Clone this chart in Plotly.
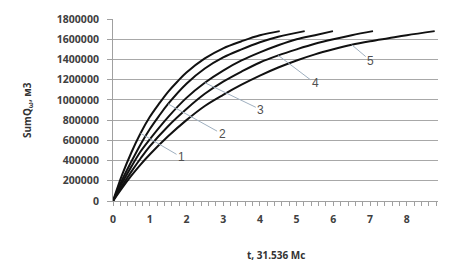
import numpy as np
import plotly.graph_objects as go

# time, units of 31.536 Mc
t1 = [0, 0.25, 0.5, 0.75, 1.0, 1.25, 1.5, 1.75, 2.0, 2.5, 3.0, 3.5, 4.0, 4.54]
q1 = [0, 260000, 480000, 670000, 830000, 960000, 1080000, 1180000, 1270000, 1410000, 1510000, 1580000, 1640000, 1680000]

t2 = [0, 0.25, 0.5, 0.75, 1.0, 1.25, 1.5, 2.0, 2.5, 3.0, 3.5, 4.0, 4.5, 5.22]
q2 = [0, 210000, 390000, 560000, 710000, 840000, 960000, 1160000, 1310000, 1420000, 1500000, 1570000, 1625000, 1680000]

t3 = [0, 0.25, 0.5, 0.75, 1.0, 1.5, 2.0, 2.5, 3.0, 3.5, 4.0, 4.5, 5.0, 5.5, 5.99]
q3 = [0, 180000, 340000, 490000, 610000, 830000, 1020000, 1170000, 1290000, 1390000, 1470000, 1540000, 1600000, 1640000, 1680000]

t4 = [0, 0.25, 0.5, 0.75, 1.0, 1.5, 2.0, 2.5, 3.0, 3.5, 4.0, 4.5, 5.0, 5.5, 6.0, 6.5, 7.08]
q4 = [0, 150000, 290000, 420000, 540000, 740000, 910000, 1060000, 1180000, 1280000, 1370000, 1440000, 1500000, 1555000, 1600000, 1640000, 1680000]

t5 = [0, 0.25, 0.5, 0.75, 1.0, 1.5, 2.0, 2.5, 3.0, 3.5, 4.0, 4.5, 5.0, 5.5, 6.0, 6.5, 7.0, 7.5, 8.0, 8.76]
q5 = [0, 130000, 250000, 360000, 460000, 640000, 800000, 940000, 1050000, 1150000, 1240000, 1320000, 1390000, 1450000, 1500000, 1545000, 1580000, 1610000, 1640000, 1680000]

series = [(t1, q1), (t2, q2), (t3, q3), (t4, q4), (t5, q5)]
curve_labels = ["1", "2", "3", "4", "5"]
label_at_t = [0.75, 1.5, 2.5, 4.5, 6.5]
label_offsets = [(41, 24), (54, 30), (56, 27), (37, 28), (19, 16)]

y_ticks = list(range(0, 1800001, 200000))
x_ticks = list(range(0, 9))

FONT = "Open Sans, Liberation Sans, Arial"

fig = go.Figure()
for t, q in series:
    fig.add_trace(go.Scatter(x=t, y=q, mode="lines",
                             line=dict(color="#111111", width=2, shape="spline", smoothing=1.0),
                             showlegend=False, hoverinfo="skip"))

for (t, q), lab, ta, (ax, ay) in zip(series, curve_labels, label_at_t, label_offsets):
    fig.add_annotation(x=ta, y=float(np.interp(ta, t, q)), xref="x", yref="y",
                       text=lab, showarrow=True, arrowhead=0, arrowwidth=1,
                       arrowcolor="#9fb0c0", ax=ax, ay=ay,
                       font=dict(family="Liberation Sans, Arial", size=12, color="#505050"))

fig.add_annotation(text="<b>SumQ<sub>ω</sub>, м3</b>", xref="paper", yref="paper",
                   x=0, y=0.5, xshift=-86, xanchor="center", yanchor="middle",
                   textangle=-90, showarrow=False,
                   font=dict(family=FONT, size=10, color="#333333"))
fig.add_annotation(text="<b>t, 31.536 Mc</b>", xref="paper", yref="paper",
                   x=0.5, y=0, yshift=-54, xanchor="center", yanchor="middle",
                   showarrow=False,
                   font=dict(family=FONT, size=10, color="#333333"))

fig.update_layout(
    width=452, height=269,
    margin=dict(l=113, r=14, t=15, b=68),
    paper_bgcolor="white", plot_bgcolor="white",
    font=dict(family=FONT, size=10, color="#404040"),
)
fig.update_xaxes(range=[0, 8.85], tickmode="array", tickvals=x_ticks,
                 ticktext=[f"<b>{v}</b>" for v in x_ticks],
                 showgrid=False, zeroline=False, showline=True, linecolor="#a0a0a0",
                 ticks="outside", ticklen=4, tickcolor="#a0a0a0", ticklabelstandoff=4,
                 minor=dict(dtick=0.2, tick0=0, ticks="outside", ticklen=4, tickcolor="#a0a0a0", showgrid=False),
                 tickfont=dict(family=FONT, size=10.5, color="#404040"))
fig.update_yaxes(range=[0, 1800000], tickmode="array", tickvals=y_ticks,
                 ticktext=[f"<b>{v}</b>" for v in y_ticks],
                 showgrid=True, gridcolor="#a8a8a8", gridwidth=1, zeroline=False,
                 showline=True, linecolor="#a0a0a0", ticks="outside", ticklen=5,
                 tickcolor="#a0a0a0", ticklabelstandoff=6,
                 tickfont=dict(family=FONT, size=10.5, color="#404040"))

fig.write_html("out.html", config={"displayModeBar": False},
               post_script="document.body.style.margin='0';document.body.style.padding='0';")
